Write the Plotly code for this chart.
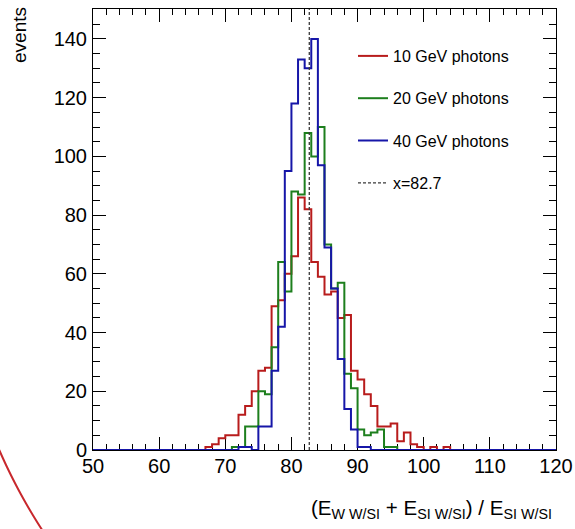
import math
import plotly.graph_objects as go

# ---------------- data ----------------
x_min, x_max, bin_width = 50, 120, 1

series_names = ["10 GeV photons", "20 GeV photons", "40 GeV photons"]
series_colors = ["#b81c1c", "#1d7f1d", "#1616a8"]

red_first_bin = 67
red_counts = [1, 2, 4, 5, 5, 12, 15, 20, 27, 28, 49, 51, 60, 66, 86, 82, 64, 59,
              53, 54, 45, 46, 27, 24, 19, 15, 8, 8, 9, 3, 6, 2, 1, 0, 1, 0, 1]

green_first_bin = 71
green_counts = [1, 1, 8, 8, 20, 19, 35, 64, 54, 88, 87, 108, 100, 110, 70, 55,
                57, 26, 21, 7, 5, 6, 7, 1, 1]

blue_first_bin = 72
blue_counts = [1, 1, 0, 8, 8, 27, 42, 95, 118, 133, 130, 140, 97, 69, 55, 31,
               14, 7, 1, 1]

line_value = 82.7
line_label = "x=82.7"

x_ticks = [50, 60, 70, 80, 90, 100, 110, 120]
y_ticks = [0, 20, 40, 60, 80, 100, 120, 140]
y_top = 150.2

x_title = "(E<sub>W W/SI</sub> + E<sub>SI W/SI</sub>) / E<sub>SI W/SI</sub>"
y_title = "events"

# ---------------- build step histograms ----------------
n_bins = int((x_max - x_min) / bin_width)
edges = [x_min + i * bin_width for i in range(n_bins + 1)]


def full_hist(first_bin, counts):
    vals = [0] * n_bins
    start = int((first_bin - x_min) / bin_width)
    for i, c in enumerate(counts):
        vals[start + i] = c
    return vals + [vals[-1]]


hists = [full_hist(red_first_bin, red_counts),
         full_hist(green_first_bin, green_counts),
         full_hist(blue_first_bin, blue_counts)]

FONT = "Liberation Sans, Arial, Helvetica, sans-serif"

fig = go.Figure()
for name, color, vals in zip(series_names, series_colors, hists):
    fig.add_trace(go.Scatter(
        x=edges, y=vals, mode="lines", name=name, legendgroup=name,
        line=dict(shape="hv", color=color, width=2),
        hoverinfo="skip"))

fig.add_trace(go.Scatter(
    x=[line_value, line_value], y=[0, y_top], mode="lines", name=line_label,
    legendgroup=line_label,
    line=dict(color="#3a3a3a", width=1.3, dash="3px,2px"), hoverinfo="skip"))

L, R, T, B = 93, 19, 9, 79
W, H = 575, 529
pw, ph = W - L - R, H - T - B


def px2paper(px, py):
    return (px - L) / pw, (H - B - py) / ph


axis_common = dict(
    showline=True, linecolor="black", linewidth=1, mirror="ticks",
    ticks="inside", ticklen=13, tickwidth=1, tickcolor="black",
    showgrid=False, zeroline=False, automargin=False,
    tickfont=dict(family=FONT, size=20, color="black"),
    layer="below traces",
)

fig.update_xaxes(range=[x_min, x_max], tickvals=x_ticks, ticklabelstandoff=-2,
                 minor=dict(ticks="inside", ticklen=6, dtick=2, tickcolor="black",
                            showgrid=False),
                 **axis_common)
fig.update_yaxes(range=[0, y_top], tickvals=y_ticks, ticklabelstandoff=1,
                 minor=dict(ticks="inside", ticklen=7, dtick=5, tickcolor="black",
                            showgrid=False),
                 **axis_common)

# axis titles as annotations (ROOT style: right / top aligned)
ax, ay = px2paper(554, 494)
fig.add_annotation(text=x_title, xref="paper", yref="paper", x=ax, y=ay,
                   xanchor="right", yanchor="top", showarrow=False,
                   font=dict(family=FONT, size=20.5, color="black"))
tx, ty = px2paper(19, 5)
fig.add_annotation(text=y_title, xref="paper", yref="paper", x=tx, y=ty,
                   xanchor="center", yanchor="top", textangle=-90, showarrow=False,
                   font=dict(family=FONT, size=19, color="black"))

# decorative red arc in the lower-left corner of the page
cx, cy, rad = 509, 228, 556
pts = []
for k in range(41):
    yy = 425 + k * 3.0
    xx = cx - math.sqrt(rad ** 2 - (yy - cy) ** 2)
    pts.append(px2paper(xx, yy))
path = "M " + " L ".join(f"{p[0]:.5f},{p[1]:.5f}" for p in pts)
fig.add_shape(type="path", path=path, xref="paper", yref="paper",
              line=dict(color="#c8282d", width=2))

lx, ly = px2paper(353, 39)
fig.update_layout(
    width=W, height=H,
    margin=dict(l=L, r=R, t=T, b=B, autoexpand=False),
    plot_bgcolor="white", paper_bgcolor="white",
    showlegend=True,
    legend=dict(x=lx, y=ly, xanchor="left", yanchor="top",
                font=dict(family=FONT, size=16, color="black"),
                bgcolor="rgba(0,0,0,0)", tracegroupgap=18.5, itemwidth=30),
)

fig.write_html("out.html",
               config={"displayModeBar": False},
               post_script="document.body.style.margin='0';"
                           "document.body.style.overflow='hidden';")
